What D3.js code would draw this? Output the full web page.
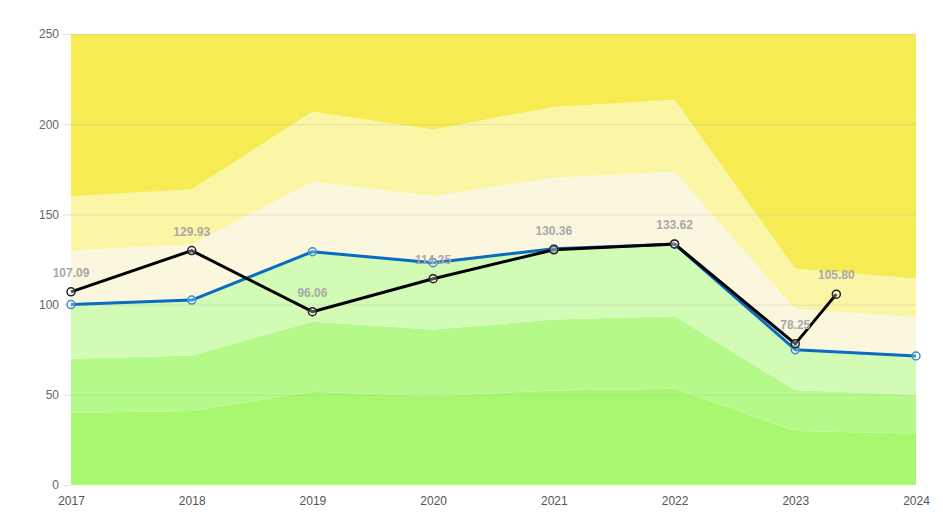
<!DOCTYPE html>
<html>
<head>
<meta charset="utf-8">
<script src="https://cdn.jsdelivr.net/npm/d3@7/dist/d3.min.js"></script>
<style>
  html, body { margin: 0; padding: 0; background: #fff; }
  svg { display: block; font-family: "Liberation Sans", Arial, sans-serif; }
</style>
</head>
<body>
<svg id="chart" width="943" height="525"></svg>
<script>
// ---- data ----
const years = [2017, 2018, 2019, 2020, 2021, 2022, 2023, 2024];
const yTicks = [0, 50, 100, 150, 200, 250];

// band upper boundaries (stacked from the bottom)
const band1 = [40, 41, 51.7, 49.3, 52.4, 53.4, 30, 28.6];
const band2 = [70, 71.8, 90.5, 86.2, 91.7, 93.5, 52.5, 50];
const band3 = [100, 102.5, 129.3, 123.2, 131, 133.5, 75, 71.5];
const band4 = [130, 133.3, 168.1, 160.2, 170.3, 173.6, 97.5, 93];
const band5 = [160, 164, 206.9, 197.1, 209.6, 213.6, 120, 114.4];
const bandTop = [250, 250, 250, 250, 250, 250, 250, 250];

// blue reference line
const blueValues = [100, 102.5, 129.3, 123.2, 131, 133.5, 75, 71.5];

// black actual line (last point is a partial year)
const blackX = [2017, 2018, 2019, 2020, 2021, 2022, 2023, 2023.34];
const blackValues = [107.09, 129.93, 96.06, 114.35, 130.36, 133.62, 78.25, 105.80];

const bandColors = ["#a7f86f", "#b6f98b", "#d2fbb5", "#faf7de", "#fbf5a6", "#f6eb52"];

// ---- layout ----
const svg = d3.select("#chart");
const margin = { left: 71, right: 27, top: 34, bottom: 40 };
const W = 943, H = 525;

const x = d3.scaleLinear().domain([2017, 2024]).range([margin.left, W - margin.right]);
const y = d3.scaleLinear().domain([0, 250]).range([H - margin.bottom, margin.top]);

// ---- bands ----
const layers = [
  [null, band1], [band1, band2], [band2, band3], [band3, band4], [band4, band5], [band5, bandTop]
];
layers.forEach(([lo, hi], i) => {
  const area = d3.area()
    .x((d, j) => x(years[j]))
    .y0((d, j) => y(lo ? lo[j] : 0))
    .y1((d, j) => y(hi[j]));
  svg.append("path").datum(hi).attr("d", area).attr("fill", bandColors[i]);
});

// ---- grid ----
const grid = svg.append("g");
yTicks.forEach(t => {
  if (t === 0) return;
  grid.append("line")
    .attr("x1", margin.left).attr("x2", W - margin.right)
    .attr("y1", y(t) + 0.5).attr("y2", y(t) + 0.5)
    .attr("stroke", "#b4b4b4").attr("stroke-opacity", 0.3).attr("stroke-width", 1);
});

// ---- axes ----
const yAxis = d3.axisLeft(y).tickValues(yTicks).tickSize(8).tickPadding(4);
const gy = svg.append("g").attr("transform", `translate(${margin.left},0)`).call(yAxis);
gy.select(".domain").remove();
gy.selectAll(".tick line").attr("stroke", "#e0e0e0");
gy.selectAll(".tick text").attr("fill", "#666").attr("font-size", 12);

const xAxis = d3.axisBottom(x).tickValues(years).tickFormat(d3.format("d")).tickSize(0).tickPadding(11);
const gx = svg.append("g").attr("transform", `translate(0,${H - margin.bottom})`).call(xAxis);
gx.select(".domain").remove();
gx.selectAll(".tick text").attr("fill", "#555").attr("font-size", 12);

// ---- lines ----
const blueLine = d3.line().x((d, i) => x(years[i])).y(d => y(d));
svg.append("path").datum(blueValues).attr("d", blueLine)
  .attr("fill", "none").attr("stroke", "#0a6bc2").attr("stroke-width", 3).attr("stroke-linejoin", "round");

const blackLine = d3.line().x((d, i) => x(blackX[i])).y(d => y(d));
svg.append("path").datum(blackValues).attr("d", blackLine)
  .attr("fill", "none").attr("stroke", "#000").attr("stroke-width", 3).attr("stroke-linejoin", "round");

svg.append("g").selectAll("circle").data(blueValues).join("circle")
  .attr("cx", (d, i) => x(years[i])).attr("cy", d => y(d)).attr("r", 4)
  .attr("fill", "rgba(255,255,255,0.25)").attr("stroke", "#3a8fd4").attr("stroke-width", 1.5);

svg.append("g").selectAll("circle").data(blackValues).join("circle")
  .attr("cx", (d, i) => x(blackX[i])).attr("cy", d => y(d)).attr("r", 4)
  .attr("fill", "rgba(255,255,255,0.3)").attr("stroke", "#222").attr("stroke-width", 1.5);

// ---- labels ----
svg.append("g").selectAll("text").data(blackValues).join("text")
  .attr("x", (d, i) => x(blackX[i])).attr("y", d => y(d) - 15)
  .attr("text-anchor", "middle")
  .attr("font-size", 12).attr("font-weight", "bold")
  .attr("fill", "#a9a9a9")
  .text(d => d.toFixed(2));
</script>
</body>
</html>
